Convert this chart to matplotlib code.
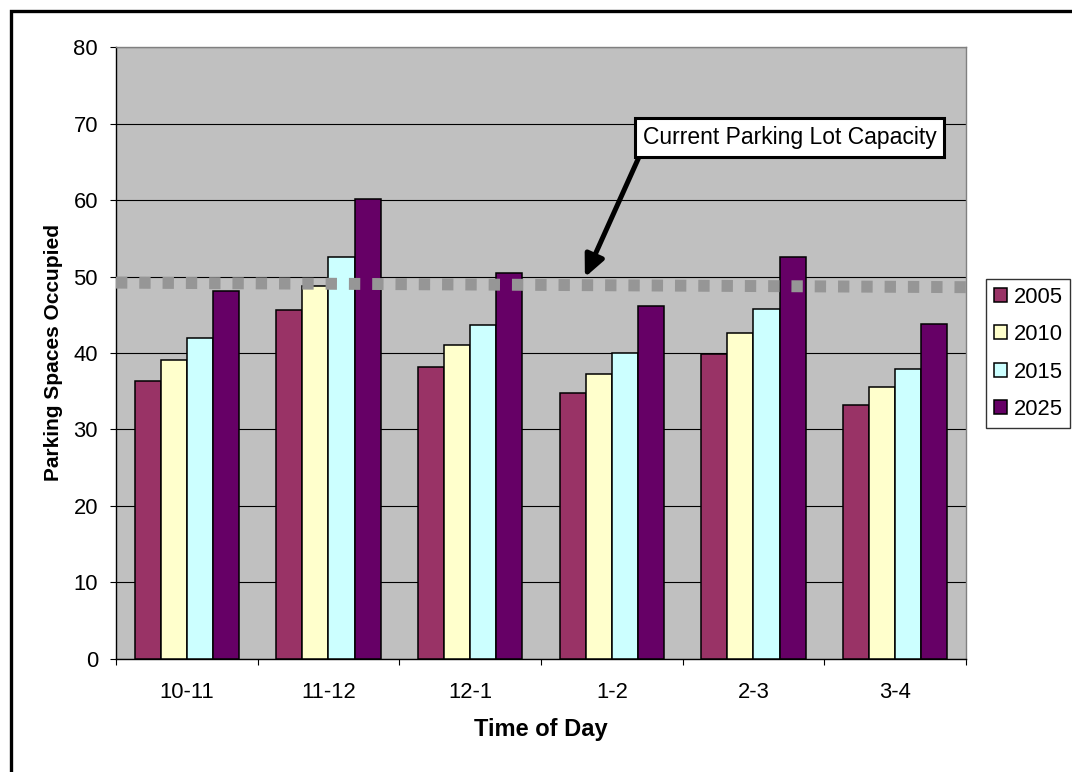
import matplotlib
matplotlib.use('Agg')
import matplotlib.pyplot as plt
import matplotlib.patches as patches
import numpy as np

plt.rcParams['font.family'] = ['Liberation Sans', 'DejaVu Sans']

# Data
time_slots = ['10-11', '11-12', '12-1', '1-2', '2-3', '3-4']
years = ['2005', '2010', '2015', '2025']
occ_2005 = [36.4, 45.6, 38.2, 34.8, 39.9, 33.2]
occ_2010 = [39.1, 48.8, 41.0, 37.3, 42.6, 35.5]
occ_2015 = [41.9, 52.5, 43.7, 40.0, 45.8, 37.9]
occ_2025 = [48.1, 60.1, 50.4, 46.1, 52.5, 43.8]
capacity_level = [49.2, 48.6]   # dotted capacity line (left end, right end)

# Excel-ish palette
bar_colors = ['#993366', '#FFFFCC', '#CCFFFF', '#660066']
series = [occ_2005, occ_2010, occ_2015, occ_2025]

FS = 15.8

fig = plt.figure(figsize=(10.72, 7.72), dpi=100)
ax = fig.add_axes([0.1082, 0.1464, 0.7929, 0.7927])
ax.set_facecolor('#C0C0C0')

x = np.arange(len(time_slots))
width = 0.184
for i, (vals, col, yr) in enumerate(zip(series, bar_colors, years)):
    ax.bar(x + (i - 1.5) * width, vals, width, color=col, edgecolor='black',
           linewidth=1.1, label=yr, zorder=3)

# Capacity line (dotted squares), runs a bit past the plot area
ax.plot([-0.5, 5.54], capacity_level, color='#969696', linewidth=8.6,
        dashes=(0.95, 1.0), solid_capstyle='butt', dash_capstyle='butt',
        clip_on=False, zorder=4)

ax.set_xlim(-0.5, len(time_slots) - 0.5)
ax.set_ylim(0, 80)
ax.set_yticks(np.arange(0, 81, 10))
ax.grid(True, axis='y', color='black', linewidth=0.8, zorder=0)
ax.set_axisbelow(True)

ax.set_xticks(x)
ax.set_xticklabels(time_slots, fontsize=FS)
ax.set_xticks(np.arange(-0.5, len(time_slots), 1), minor=True)
ax.tick_params(axis='x', which='major', length=0, pad=16.5)
ax.tick_params(axis='x', which='minor', length=4.5, width=0.8, direction='out')
ax.tick_params(axis='y', length=4.5, width=0.8, pad=8.5, labelsize=FS)

for s in ['top', 'right']:
    ax.spines[s].set_color('#808080')
for s in ['left', 'bottom']:
    ax.spines[s].set_color('black')
for s in ax.spines.values():
    s.set_linewidth(1.0)

ax.set_ylabel('Parking Spaces Occupied', fontsize=15, fontweight='bold')
ax.yaxis.set_label_coords(-0.0624, 0.5)
ax.set_xlabel('Time of Day', fontsize=17, fontweight='bold')
ax.xaxis.set_label_coords(0.5, -0.0965)
ax.xaxis.label.set_va('top')

# Callout for the capacity line
ax.annotate('Current Parking Lot Capacity', xy=(2.81, 49.9), xytext=(4.254, 68.17),
            ha='center', va='center', fontsize=16.5,
            bbox=dict(boxstyle='square,pad=0.35', facecolor='white',
                      edgecolor='black', linewidth=2.2),
            arrowprops=dict(arrowstyle='-|>,head_length=0.65,head_width=0.3',
                            mutation_scale=20, color='black', linewidth=3.6,
                            relpos=(0, 0), shrinkA=0, shrinkB=0),
            zorder=6)

leg = fig.legend(loc='upper left', bbox_to_anchor=(0.9198, 0.6386),
                 bbox_transform=fig.transFigure, fontsize=FS,
                 frameon=True, fancybox=False, borderaxespad=0,
                 handlelength=0.6, handleheight=0.6, handletextpad=0.3,
                 labelspacing=0.75, borderpad=0.35)
leg.get_frame().set_edgecolor('black')
leg.get_frame().set_linewidth(1.0)

# Outer chart frame (only left/top edges fall inside the image)
frame = patches.Rectangle((11 / 1072, -0.5), 1.5, 1 - 11 / 772 + 0.5,
                          transform=fig.transFigure, fill=False,
                          edgecolor='black', linewidth=2.4, clip_on=False)
fig.add_artist(frame)

fig.savefig('out.png', dpi=100)
